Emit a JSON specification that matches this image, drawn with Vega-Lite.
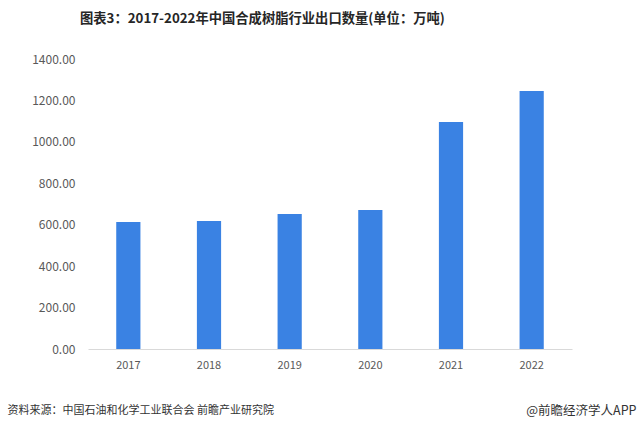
{
  "$schema": "https://vega.github.io/schema/vega-lite/v6.json",
  "width": 484,
  "height": 290,
  "autosize": {"type": "none"},
  "padding": {"left": 88, "top": 59, "right": 67, "bottom": 82},
  "background": "white",
  "title": {
    "text": "图表3：2017-2022年中国合成树脂行业出口数量(单位：万吨)",
    "anchor": "start",
    "frame": "group",
    "dx": -8,
    "offset": 28,
    "font": "Noto Sans CJK SC",
    "fontSize": 13.3,
    "fontWeight": "bold",
    "color": "#262626"
  },
  "data": {
    "values": [
      {"year": "2017", "value": 613},
      {"year": "2018", "value": 618},
      {"year": "2019", "value": 652},
      {"year": "2020", "value": 671},
      {"year": "2021", "value": 1096},
      {"year": "2022", "value": 1246}
    ]
  },
  "mark": {"type": "bar", "color": "#3a82e3"},
  "encoding": {
    "x": {
      "field": "year",
      "type": "ordinal",
      "scale": {"paddingInner": 0.7, "paddingOuter": 0.35},
      "axis": {
        "domain": true,
        "domainColor": "#d9d9d9",
        "ticks": false,
        "labelAngle": 0,
        "labelColor": "#595959",
        "labelFont": "Noto Sans CJK SC",
        "labelFontSize": 11,
        "labelPadding": 10,
        "title": "资料来源：中国石油和化学工业联合会 前瞻产业研究院",
        "titleX": -81,
        "titleY": 61,
        "titleAlign": "left",
        "titleAnchor": null,
        "titleBaseline": "middle",
        "titleFont": "Noto Sans CJK SC",
        "titleFontSize": 11,
        "titleFontWeight": "normal",
        "titleColor": "#333333"
      }
    },
    "y": {
      "field": "value",
      "type": "quantitative",
      "scale": {"domain": [0, 1400]},
      "axis": {
        "domain": false,
        "ticks": false,
        "grid": false,
        "format": ".2f",
        "values": [0, 200, 400, 600, 800, 1000, 1200, 1400],
        "labelColor": "#595959",
        "labelFont": "Noto Sans CJK SC",
        "labelFontSize": 12,
        "labelPadding": 13,
        "title": "@前瞻经济学人APP",
        "titleAngle": 0,
        "titleX": 548,
        "titleY": 351,
        "titleAlign": "right",
        "titleAnchor": null,
        "titleBaseline": "middle",
        "titleFont": "Noto Sans CJK SC",
        "titleFontSize": 12.5,
        "titleFontWeight": "normal",
        "titleColor": "#333333"
      }
    }
  },
  "config": {"view": {"stroke": null}}
}
